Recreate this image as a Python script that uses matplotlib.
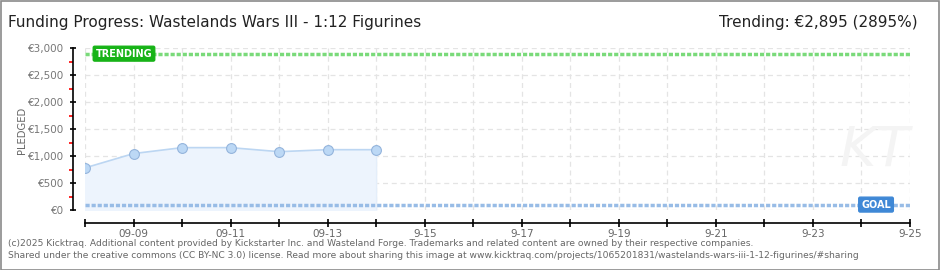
import matplotlib
matplotlib.use("Agg")
from matplotlib import pyplot as plt
from matplotlib.patches import Rectangle
import numpy as np

# data
day_index = [0, 1, 2, 3, 4, 5, 6]
pledged = [780, 1045, 1155, 1155, 1080, 1117, 1117]
goal = 100
trending = 2895
n_days = 17

tick_labels = ["", "09-09", "", "09-11", "", "09-13", "", "9-15", "", "9-17",
               "", "9-19", "", "9-21", "", "9-23", "", "9-25"]
y_ticks = [0, 500, 1000, 1500, 2000, 2500, 3000]
y_tick_labels = ["€0", "€500", "€1,000", "€1,500", "€2,000", "€2,500", "€3,000"]

W, H = 940, 270
fig = plt.figure(figsize=(W / 100, H / 100), dpi=100)
fig.patch.set_facecolor("white")

# outer grey frame
fig.add_artist(Rectangle((0.5 / W, 0.5 / H), 1 - 1.5 / W, 1 - 1.5 / H,
                         transform=fig.transFigure, fill=False,
                         edgecolor="#8a8a8a", linewidth=1.2))

ax = fig.add_axes([85 / W, (H - 210) / H, 825 / W, 162 / H])
ax.set_xlim(0, n_days)
ax.set_ylim(0, 3000)

# grid
for d in range(n_days + 1):
    ax.axvline(d, color="#e4e4e4", linestyle=(0, (4, 3)), linewidth=0.9, zorder=0)
for v in y_ticks:
    ax.axhline(v, color="#e4e4e4", linestyle=(0, (4, 3)), linewidth=0.9, zorder=0)

# pledged series
ax.fill_between(day_index, pledged, 0, color="#edf4fd", zorder=1)
ax.plot(day_index, pledged, color="#bcd6f2", linewidth=1.2, zorder=2)
ax.plot([day_index[-1], day_index[-1]], [0, pledged[-1]], color="#e4eefa", linewidth=0.8, zorder=1)
ax.scatter(day_index, pledged, s=50, color="#bcd8f5", edgecolor="#94b4dc",
           linewidth=0.8, zorder=3)

# trending and goal lines (square-dotted)
ax.axhline(trending, color="#7ada7a", linestyle=(0, (1.2, 0.55)), linewidth=2.5, zorder=2)
ax.axhline(goal, color="#98bce6", linestyle=(0, (1.2, 0.55)), linewidth=2.5, zorder=2)

ax.text(0.22, trending, "TRENDING", color="white", fontsize=7, fontweight="bold",
        va="center", ha="left", zorder=5,
        bbox=dict(boxstyle="round,pad=0.25,rounding_size=0.15", fc="#17b317", ec="#17b317"))
ax.text(16.3, goal, "GOAL", color="white", fontsize=7, fontweight="bold",
        va="center", ha="center", zorder=5,
        bbox=dict(boxstyle="round,pad=0.25,rounding_size=0.15", fc="#3f88d6", ec="#3f88d6"))

# axes styling
for s in ["top", "right"]:
    ax.spines[s].set_visible(False)
ax.spines["left"].set_position(("outward", 9))
ax.spines["bottom"].set_position(("outward", 9))
ax.spines["left"].set_linewidth(1.2)
ax.spines["bottom"].set_linewidth(1.2)

ax.set_yticks(y_ticks)
ax.set_yticklabels(y_tick_labels, color="#777777", fontsize=7.5)
ax.set_yticks(np.arange(250, 3000, 500), minor=True)
ax.tick_params(axis="y", which="major", length=4, width=1.2, direction="inout", pad=4)
ax.tick_params(axis="y", which="minor", length=3, width=1.2, color="red", direction="out")

ax.set_xticks(range(n_days + 1))
ax.set_xticklabels(tick_labels, color="#666666", fontsize=7.5)
ax.tick_params(axis="x", length=6, width=1.2, direction="inout", pad=2)

fig.text(22 / W, (H - 130) / H, "PLEDGED", rotation=90, color="#666666",
         fontsize=7.2, ha="center", va="center")

# watermark
fig.text(875 / W, (H - 150) / H, "KT", fontsize=40, color="#f4f4f4", ha="center",
         va="center", style="italic", zorder=0)

# titles
fig.text(8 / W, (H - 22) / H, "Funding Progress: Wastelands Wars III - 1:12 Figurines",
         fontsize=11, color="#222222", va="center", ha="left")
fig.text(918 / W, (H - 22) / H, "Trending: €2,895 (2895%)",
         fontsize=11, color="#222222", va="center", ha="right")

# footer
fig.text(8 / W, (H - 243) / H,
         "(c)2025 Kicktraq. Additional content provided by Kickstarter Inc. and Wasteland Forge. "
         "Trademarks and related content are owned by their respective companies.",
         fontsize=6.6, color="#666666", va="center", ha="left")
fig.text(8 / W, (H - 256) / H,
         "Shared under the creative commons (CC BY-NC 3.0) license. Read more about sharing this image at "
         "www.kicktraq.com/projects/1065201831/wastelands-wars-iii-1-12-figurines/#sharing",
         fontsize=6.6, color="#666666", va="center", ha="left")

fig.savefig("out.png", dpi=100)
